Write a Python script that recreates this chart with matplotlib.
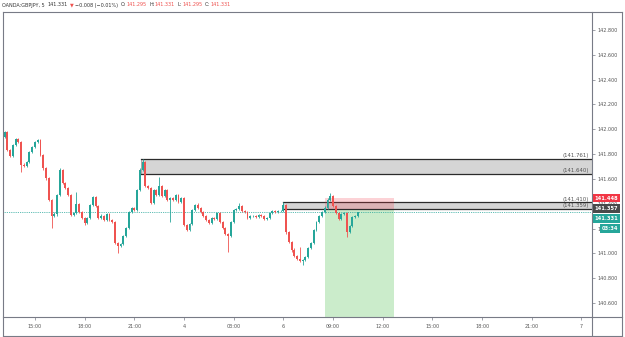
import matplotlib
matplotlib.use("Agg")
import matplotlib.pyplot as plt
from matplotlib.patches import Rectangle
from matplotlib.lines import Line2D

# ---------------- data ----------------
opens = [141.938, 141.978, 141.833, 141.785, 141.873, 141.922, 141.898, 141.712, 141.704, 141.736,
         141.817, 141.857, 141.898, 141.914, 141.793, 141.688, 141.607, 141.430, 141.301, 141.317,
         141.470, 141.672, 141.567, 141.527, 141.470, 141.309, 141.325, 141.398, 141.333, 141.285,
         141.245, 141.285, 141.390, 141.454, 141.382, 141.285, 141.301, 141.269, 141.317, 141.269,
         141.253, 141.084, 141.059, 141.076, 141.140, 141.204, 141.333, 141.366, 141.350, 141.511,
         141.672, 141.736, 141.543, 141.527, 141.406, 141.511, 141.470, 141.543, 141.462, 141.511,
         141.430, 141.446, 141.430, 141.470, 141.414, 141.446, 141.229, 141.188, 141.237, 141.350,
         141.390, 141.366, 141.333, 141.301, 141.269, 141.245, 141.285, 141.277, 141.325, 141.253,
         141.204, 141.156, 141.140, 141.253, 141.350, 141.358, 141.382, 141.341, 141.333, 141.285,
         141.301, 141.301, 141.293, 141.309, 141.301, 141.277, 141.285, 141.325, 141.341, 141.333,
         141.341, 141.341, 141.390, 141.172, 141.092, 141.027, 140.979, 140.955, 140.939, 140.947,
         140.971, 141.043, 141.084, 141.188, 141.253, 141.301, 141.333, 141.366, 141.430, 141.462,
         141.382, 141.325, 141.277, 141.317, 141.325, 141.172, 141.221, 141.293, 141.301]
closes = [141.978, 141.833, 141.785, 141.873, 141.922, 141.898, 141.712, 141.704, 141.736, 141.817,
          141.857, 141.898, 141.914, 141.793, 141.688, 141.607, 141.430, 141.301, 141.317, 141.470,
          141.672, 141.567, 141.527, 141.470, 141.309, 141.325, 141.398, 141.333, 141.285, 141.245,
          141.285, 141.390, 141.454, 141.382, 141.285, 141.301, 141.269, 141.317, 141.269, 141.253,
          141.084, 141.059, 141.076, 141.140, 141.204, 141.333, 141.366, 141.350, 141.511, 141.672,
          141.736, 141.543, 141.527, 141.406, 141.511, 141.470, 141.543, 141.462, 141.511, 141.430,
          141.446, 141.430, 141.470, 141.414, 141.446, 141.229, 141.188, 141.237, 141.350, 141.390,
          141.366, 141.333, 141.301, 141.269, 141.245, 141.285, 141.277, 141.325, 141.253, 141.204,
          141.156, 141.140, 141.253, 141.350, 141.358, 141.382, 141.341, 141.333, 141.285, 141.301,
          141.301, 141.293, 141.309, 141.301, 141.277, 141.285, 141.325, 141.341, 141.333, 141.341,
          141.341, 141.390, 141.172, 141.092, 141.027, 140.979, 140.955, 140.939, 140.947, 140.971,
          141.043, 141.084, 141.188, 141.253, 141.301, 141.333, 141.366, 141.430, 141.462, 141.382,
          141.325, 141.277, 141.317, 141.325, 141.172, 141.221, 141.293, 141.301, 141.331]
highs = [141.990, 141.985, 141.840, 141.880, 141.930, 141.928, 141.905, 141.725, 141.745, 141.825,
         141.865, 141.905, 141.925, 141.918, 141.800, 141.700, 141.615, 141.440, 141.330, 141.480,
         141.685, 141.680, 141.575, 141.535, 141.478, 141.335, 141.495, 141.405, 141.340, 141.295,
         141.295, 141.400, 141.465, 141.460, 141.390, 141.315, 141.310, 141.325, 141.322, 141.280,
         141.260, 141.095, 141.085, 141.150, 141.215, 141.345, 141.375, 141.372, 141.520, 141.685,
         141.761, 141.742, 141.555, 141.535, 141.520, 141.520, 141.615, 141.550, 141.520, 141.518,
         141.455, 141.455, 141.480, 141.475, 141.455, 141.452, 141.240, 141.245, 141.360, 141.400,
         141.406, 141.372, 141.340, 141.310, 141.278, 141.295, 141.292, 141.335, 141.330, 141.260,
         141.210, 141.165, 141.262, 141.360, 141.368, 141.406, 141.388, 141.350, 141.340, 141.310,
         141.308, 141.308, 141.318, 141.315, 141.308, 141.293, 141.333, 141.348, 141.346, 141.348,
         141.350, 141.414, 141.395, 141.180, 141.100, 141.040, 140.990, 141.050, 140.958, 140.980,
         141.052, 141.095, 141.198, 141.262, 141.310, 141.342, 141.380, 141.445, 141.487, 141.470,
         141.390, 141.332, 141.326, 141.334, 141.332, 141.230, 141.302, 141.310, 141.331]
lows = [141.930, 141.825, 141.777, 141.778, 141.865, 141.890, 141.656, 141.695, 141.696, 141.728,
        141.810, 141.850, 141.890, 141.785, 141.675, 141.595, 141.420, 141.204, 141.290, 141.305,
        141.460, 141.558, 141.518, 141.460, 141.298, 141.300, 141.315, 141.325, 141.275, 141.229,
        141.238, 141.278, 141.382, 141.375, 141.275, 141.278, 141.260, 141.262, 141.260, 141.245,
        141.075, 141.003, 141.050, 141.068, 141.132, 141.195, 141.325, 141.340, 141.342, 141.500,
        141.665, 141.535, 141.518, 141.398, 141.400, 141.462, 141.462, 141.455, 141.455, 141.420,
        141.253, 141.422, 141.424, 141.405, 141.406, 141.220, 141.178, 141.180, 141.228, 141.342,
        141.358, 141.325, 141.292, 141.260, 141.236, 141.238, 141.270, 141.270, 141.245, 141.195,
        141.148, 141.011, 141.132, 141.245, 141.342, 141.350, 141.334, 141.326, 141.278, 141.278,
        141.294, 141.286, 141.286, 141.294, 141.270, 141.270, 141.278, 141.318, 141.326, 141.326,
        141.334, 141.334, 141.160, 141.080, 141.015, 140.968, 140.945, 140.930, 140.906, 140.938,
        140.962, 141.035, 141.076, 141.180, 141.245, 141.294, 141.326, 141.358, 141.422, 141.374,
        141.317, 141.268, 141.270, 141.310, 141.132, 141.165, 141.214, 141.286, 141.295]

time_tick_pos = [11, 29, 47, 65, 83, 101, 119, 137, 155, 173, 191, 209]
time_tick_labels = ["15:00", "18:00", "21:00", "4", "03:00", "6", "09:00", "12:00",
                    "15:00", "18:00", "21:00", "7"]
price_ticks = [140.6, 140.8, 141.0, 141.2, 141.4, 141.6, 141.8, 142.0, 142.2, 142.4, 142.6, 142.8]

zone1 = (49.4, 141.640, 141.761)   # start index, bottom, top
zone2 = (100.9, 141.359, 141.410)
pos_start, pos_end = 116, 141
stop_price, entry_price = 141.448, 141.357
last_price = 141.331

header_texts = ["OANDA:GBPJPY, 5", "141.331", "\u25BC", "\u22120.008 (\u22120.01%)", "O:", "141.295",
                "H:", "141.331", "L:", "141.295", "C:", "141.331"]
header_colors = ["#333333", "#333333", "#ef5350", "#333333", "#333333", "#ef5350",
                 "#333333", "#ef5350", "#333333", "#ef5350", "#333333", "#ef5350"]

# ---------------- figure ----------------
W, H = 625, 337
fig = plt.figure(figsize=(W / 100, H / 100), dpi=100)
L, R, T, B = 3, 592, 12, 317
ax = fig.add_axes([L / W, 1 - B / H, (R - L) / W, (B - T) / H])

UP, DN = "#26a69a", "#ef5350"
xs = list(range(len(closes)))
cols = [UP if c >= o else DN for o, c in zip(opens, closes)]
ax.vlines(xs, lows, highs, colors=cols, linewidth=0.6, zorder=4)
bottoms = [min(o, c) for o, c in zip(opens, closes)]
heights = [max(abs(c - o), 0.0025) for o, c in zip(opens, closes)]
ax.bar(xs, heights, bottom=bottoms, width=0.7, color=cols, linewidth=0, zorder=5)

XR = 215
for (x0, lo, hi) in (zone1, zone2):
    ax.add_patch(Rectangle((x0, lo), XR - x0, hi - lo, facecolor="#d5d5d5",
                           edgecolor="#777777", linewidth=0.4, zorder=2))
    ax.plot([x0, XR], [hi, hi], color="#2b2b2b", linewidth=0.9, zorder=2.5)
    ax.plot([x0, XR], [lo, lo], color="#2b2b2b", linewidth=0.9, zorder=2.5)

ax.add_patch(Rectangle((pos_start, 140.2), pos_end - pos_start, entry_price - 140.2,
                       facecolor="#cbeccb", edgecolor="none", zorder=1))
ax.add_patch(Rectangle((pos_start, entry_price), pos_end - pos_start, stop_price - entry_price,
                       facecolor="#f23645", alpha=0.22, edgecolor="none", zorder=3))

ax.axhline(last_price, color=UP, linestyle=(0, (1, 1.2)), linewidth=0.6, zorder=3)

ax.set_xlim((L - 4.6) / 2.76, (R - 4.6) / 2.76)
ax.set_ylim(142.8 - (B - 30) / 124.1, 142.8 - (T - 30) / 124.1)

xlab = (589 - 4.6) / 2.76
for v in (zone1[2], zone1[1], zone2[2], zone2[1]):
    ax.text(xlab, v + 0.006, "(%.3f)" % v, ha="right", va="bottom", fontsize=3.9,
            color="#555555", zorder=6)

for s in ("top", "left"):
    ax.spines[s].set_visible(False)
for s in ("right", "bottom"):
    ax.spines[s].set_color("#787b86")
    ax.spines[s].set_linewidth(0.8)
ax.yaxis.tick_right()
ax.set_yticks(price_ticks)
ax.set_yticklabels(["%.3f" % p for p in price_ticks])
ax.set_xticks(time_tick_pos)
ax.set_xticklabels(time_tick_labels)
ax.tick_params(axis="y", length=2, width=0.5, colors="#787b86", labelsize=3.5,
               labelcolor="#555555", pad=2)
ax.tick_params(axis="x", length=2, width=0.5, colors="#787b86", labelsize=3.5,
               labelcolor="#555555", pad=3)

def fline(x0, y0, x1, y1, lw=0.8, c="#787b86"):
    fig.add_artist(Line2D([x0 / W, x1 / W], [1 - y0 / H, 1 - y1 / H], color=c, linewidth=lw))

fline(L, T, 622, T)
fline(L, T, L, 336)
fline(622, T, 622, 336)
fline(L, 336, 622, 336)
fline(R, B, R, 336)
fline(R, B, 622, B)

def badge(ypx, txt, bg, x0=594.5):
    fig.text(x0 / W, 1 - ypx / H, txt, fontsize=3.7, color="white", fontweight="bold",
             ha="left", va="center", zorder=10,
             bbox=dict(boxstyle="square,pad=0.3", facecolor=bg, edgecolor="none"))

badge(198, "141.448", "#f23645")
badge(208.5, "141.357", "#4a4a4a")
badge(218.5, "141.331", "#26a69a")
badge(228.5, "03:34", "#26a69a", x0=601.5)

# header laid out piece by piece
fig.canvas.draw()
rend = fig.canvas.get_renderer()
gaps = [2.5, 2.5, 1.5, 2.5, 0.5, 2.5, 0.5, 2.5, 0.5, 2.5, 0.5, 0]
xh = 2
for txt, col, g in zip(header_texts, header_colors, gaps):
    t = fig.text(xh / W, 1 - 5 / H, txt, fontsize=3.5, color=col, ha="left", va="center")
    bb = t.get_window_extent(renderer=rend)
    xh = bb.x1 + g

fig.savefig("out.png", dpi=100)
